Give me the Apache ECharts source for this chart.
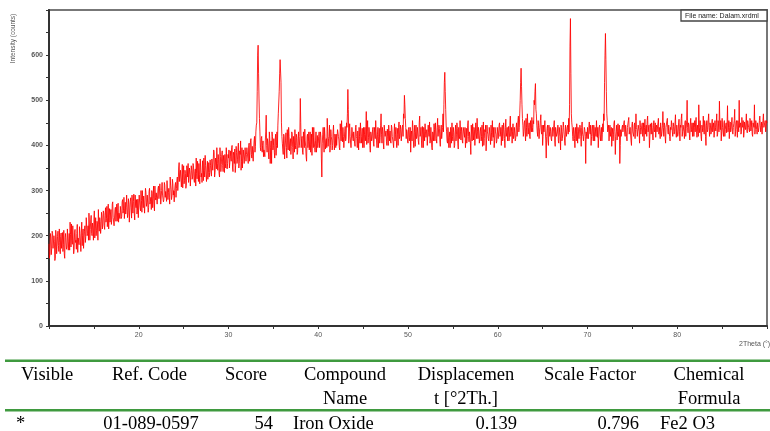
<!DOCTYPE html>
<html>
<head>
<meta charset="utf-8">
<script src="https://cdn.jsdelivr.net/npm/echarts@6/dist/echarts.min.js"></script>
<style>
html,body{margin:0;padding:0;background:#fff;}
#c{width:770px;height:431px;}
</style>
</head>
<body>
<div id="c"></div>
<script>
// 2Theta grid: start and step (degrees)
const twoThetaStart = 10;
const twoThetaStep = 0.1;
// Intensity (counts) at 10.0, 10.1, ... 90.0 deg
const intensity = [
182,160,195,171,205,168,188,150,199,176,210,165,185,198,172,207,180,160,196,184,
175,212,188,168,203,226,181,195,170,214,190,205,163,199,220,186,208,178,215,195,
222,198,236,205,190,228,214,245,200,219,232,195,240,212,226,258,210,231,218,244,
226,250,214,262,238,220,270,245,230,258,236,275,242,225,263,248,232,272,250,238,
265,243,280,256,238,274,262,290,248,270,255,284,239,268,276,250,290,262,248,281,
268,292,255,278,300,262,284,250,296,273,288,262,305,276,258,294,282,270,310,279,
295,272,310,286,300,268,318,292,280,312,298,276,320,296,285,330,302,288,315,300,
300,318,305,330,318,362,318,342,330,306,355,322,338,312,348,360,320,336,312,345,
330,355,318,348,372,326,345,360,315,352,338,366,322,344,378,335,350,325,362,340,
356,332,372,348,385,340,362,395,345,368,330,375,358,388,342,366,380,350,396,360,
372,350,388,365,400,342,378,392,356,384,368,405,360,380,345,395,372,388,362,398,
380,395,360,405,385,415,372,400,390,420,398,445,520,622,505,430,388,420,400,375,
392,410,467,385,405,370,415,395,360,420,400,385,412,378,430,445,470,560,593,450,
405,380,420,395,428,372,410,440,388,415,398,425,370,408,435,392,418,385,430,400,
504,395,420,380,412,436,398,365,425,408,390,430,402,378,418,440,395,410,385,422,
405,430,395,418,330,425,410,440,392,415,460,398,420,385,435,412,400,445,390,420,
425,400,438,412,390,430,455,408,420,395,442,415,440,524,405,448,418,392,436,410,
428,398,445,415,432,390,420,450,405,438,412,395,440,425,402,455,418,430,385,425,
415,440,398,428,455,410,425,395,438,418,470,405,430,392,445,420,408,436,400,428,
432,405,440,418,395,448,425,410,438,400,452,420,435,408,445,470,511,460,415,430,
405,440,418,385,432,455,410,428,398,445,420,438,402,465,425,410,442,395,430,448,
418,435,400,428,452,412,440,390,425,448,410,432,405,460,420,438,398,445,415,470,
490,562,480,430,405,440,418,395,432,450,410,428,400,445,425,438,392,420,455,412,
430,405,442,418,395,438,420,455,408,432,380,425,448,412,435,400,428,460,415,432,
405,440,420,398,452,415,430,388,445,425,410,438,402,428,455,418,395,440,425,410,
438,412,450,425,400,445,420,435,395,458,428,410,442,418,465,430,405,448,422,440,
415,450,428,465,440,500,571,490,445,430,455,410,440,470,425,450,415,438,462,430,
448,490,537,470,430,455,415,440,468,425,400,445,430,458,372,438,410,445,420,430,
410,440,420,455,398,432,418,445,405,428,390,440,415,452,425,400,438,418,445,460,
490,681,470,440,410,432,395,425,448,405,430,415,440,398,452,420,408,435,360,428,
440,415,452,425,400,438,420,445,410,432,455,418,395,440,425,430,410,448,470,540,
648,520,455,430,410,445,420,398,438,425,455,380,430,412,448,420,360,435,418,445,
430,455,420,445,410,438,462,425,440,400,452,428,445,415,470,435,420,448,405,440,
425,450,432,410,458,438,420,465,430,395,448,425,440,412,455,435,418,445,428,460,
440,415,452,430,475,420,445,405,438,460,425,448,410,435,455,420,442,430,468,418,
445,425,458,410,440,470,430,448,415,455,438,500,428,445,412,460,435,420,450,440,
430,462,418,445,490,428,452,410,438,465,425,448,400,455,435,470,420,445,430,458,
440,418,455,432,470,425,448,498,435,410,460,438,450,420,445,428,488,440,415,452,
435,462,425,448,480,430,455,418,445,500,438,425,462,440,418,452,435,470,428,448,
440,460,432,455,420,448,490,435,458,425,450,440,465,430,452,445,470,438,455,442,
450
];
// Intensity (counts) at the half steps 10.05, 10.15, ... 89.95 deg
const intensityMid = [
150,205,158,210,172,200,145,212,160,198,178,215,160,206,190,165,212,150,205,170,
215,168,205,230,175,190,222,160,208,185,170,225,195,180,205,165,230,200,172,210,
185,240,200,222,250,190,235,205,228,190,255,215,200,232,190,225,240,205,252,215,
255,222,245,230,265,240,215,260,248,225,270,240,222,258,232,270,255,230,248,265,
238,275,250,285,260,248,290,240,282,230,275,262,290,250,292,235,268,280,255,240,
290,262,300,252,275,288,250,305,265,290,252,298,270,285,300,262,310,255,285,295,
270,305,282,315,270,300,290,275,318,285,300,322,280,305,270,312,280,325,290,275,
312,285,322,300,350,320,345,308,358,335,315,345,305,355,330,318,350,310,355,325,
360,325,342,310,338,365,320,335,370,330,318,345,372,330,355,320,365,340,330,368,
340,370,345,390,330,372,348,360,380,338,395,342,380,355,378,340,360,395,348,380,
390,362,375,395,350,385,360,340,398,360,392,350,388,410,365,350,390,360,395,365,
395,372,400,365,410,380,398,365,410,385,430,450,600,560,460,395,415,385,410,390,
375,430,400,415,385,430,360,410,430,390,415,372,425,400,395,470,520,590,540,420,
390,425,370,410,395,435,390,420,405,380,430,395,420,385,400,425,380,415,395,420,
450,415,385,430,395,410,375,420,395,430,410,385,425,440,395,410,385,430,405,395,
420,395,430,370,405,440,385,420,410,395,430,415,445,400,420,390,430,410,425,395,
400,435,420,395,448,410,425,440,395,430,410,450,470,480,430,420,395,440,415,430,
405,440,420,395,415,440,405,430,420,395,440,425,410,475,430,405,440,400,430,410,
435,405,440,415,430,395,440,420,405,445,425,440,405,445,420,432,400,420,445,410,
410,445,420,405,430,410,440,395,425,440,415,445,410,440,420,460,490,440,435,410,
435,410,440,425,410,440,395,445,430,415,440,410,450,420,440,395,425,440,410,430,
430,400,445,420,405,440,395,430,410,435,450,415,440,420,445,410,430,415,440,430,
540,520,445,410,440,395,430,440,405,420,440,395,430,410,450,405,440,415,430,440,
410,440,425,440,415,405,445,420,430,405,445,410,430,440,400,450,415,430,440,405,
430,410,445,420,400,435,445,410,430,415,440,420,445,410,425,440,410,430,405,440,
415,445,420,440,430,410,450,415,440,420,440,430,410,445,420,440,430,415,440,410,
440,420,455,430,470,540,530,460,420,450,430,460,420,445,440,420,455,430,440,455,
500,520,480,445,420,445,430,455,430,445,420,430,455,410,420,445,400,430,440,415,
435,420,445,410,440,420,430,410,440,420,445,410,430,440,410,445,420,440,425,430,
620,560,450,420,440,415,440,410,430,440,415,445,420,440,425,410,440,420,430,415,
420,440,430,445,420,445,410,430,440,420,430,440,420,445,410,440,425,430,455,600,
590,470,430,445,430,420,440,425,410,450,430,420,445,430,420,445,400,420,440,430,
450,425,445,420,440,455,425,440,410,445,430,420,450,435,440,420,445,430,455,425,
445,420,450,440,425,445,455,430,445,420,440,450,425,445,430,450,440,430,450,425,
430,450,420,445,440,450,420,440,455,430,445,420,440,455,430,450,425,450,430,445,
420,450,430,445,460,420,445,430,450,420,455,440,450,425,445,430,450,445,420,455,
450,430,445,420,440,455,420,445,430,440,455,420,445,430,455,440,450,425,450,430,
450,430,440,450,420,455,430,445,455,430,440,420,455,435,450,445,430,455,440,430,
450,430,440,455,420,450,435,455,430,440,450,430,445,455,430,440,450,435,455,440,
430,455,440,425,450,440,425,455,435,450,430,455,445,440,425,455,440,450,430,455
];
// Axis tick labels
const xTickLabels = [20,30,40,50,60,70,80];
const yTickLabels = [0,100,200,300,400,500,600];

// Table content
const tableHeader1 = ['Visible','Ref. Code','Score','Compound','Displacemen','Scale Factor','Chemical'];
const tableHeader2 = ['','','','Name','t [°2Th.]','','Formula'];
const tableRow = ['*','01-089-0597','54','Iron Oxide','0.139','0.796','Fe2 O3'];

const seriesData = [];
intensity.forEach((v,i)=>{
  const x = twoThetaStart + i*twoThetaStep;
  seriesData.push([+x.toFixed(3), v]);
  if (i < intensityMid.length) seriesData.push([+(x + twoThetaStep/2).toFixed(3), intensityMid[i]]);
});

const chart = echarts.init(document.getElementById('c'), null, {renderer:'canvas'});

const serif = '"Liberation Serif","Times New Roman",serif';
const sans = '"Liberation Sans",Arial,sans-serif';
const green = '#3f9a3f';

function txt(x,y,text,align){
  return {type:'text', x:x, y:y, silent:true,
    style:{text:text, fill:'#000', font:'18.5px '+serif, textAlign:align, textVerticalAlign:'middle'}};
}
const colHead = [[21,'left'],[149.5,'center'],[246,'center'],[345,'center'],[466,'center'],[590,'center'],[709,'center']];
const colData = [[16,'left'],[151,'center'],[273,'right'],[293,'left'],[517,'right'],[639,'right'],[660,'left']];
const graphics = [];
tableHeader1.forEach((t,i)=>graphics.push(txt(colHead[i][0],375.5,t,colHead[i][1])));
tableHeader2.forEach((t,i)=>{ if(t) graphics.push(txt(colHead[i][0],399,t,colHead[i][1])); });
tableRow.forEach((t,i)=>graphics.push(txt(colData[i][0],424,t,colData[i][1])));
graphics.push({type:'line', silent:true, shape:{x1:5,y1:360.8,x2:770,y2:360.8}, style:{stroke:green,lineWidth:2.5}});
graphics.push({type:'line', silent:true, shape:{x1:5,y1:410.3,x2:770,y2:410.3}, style:{stroke:green,lineWidth:2.5}});
// axis title (y)
graphics.push({type:'text', x:13, y:38.5, rotation:Math.PI/2, silent:true,
  style:{text:'Intensity (counts)', fill:'#555', font:'6.5px '+sans, textAlign:'center', textVerticalAlign:'middle'}});
// axis title (x)
graphics.push({type:'text', x:739, y:344, silent:true,
  style:{text:'2Theta (°)', fill:'#555', font:'7px '+sans, textAlign:'left', textVerticalAlign:'middle'}});
// file name box
graphics.push({type:'rect', silent:true, z:100, shape:{x:681,y:10,width:86,height:11},
  style:{fill:'#fff', stroke:'#444', lineWidth:1.3}});
graphics.push({type:'text', x:685, y:15.8, silent:true, z:101,
  style:{text:'File name: Dalam.xrdml', fill:'#222', font:'7px '+sans, textAlign:'left', textVerticalAlign:'middle'}});

chart.setOption({
  animation:false,
  backgroundColor:'#fff',
  grid:{left:49, right:2, top:10, bottom:105, show:true, borderColor:'#777', borderWidth:2, backgroundColor:'#fff'},
  xAxis:{
    type:'value', min:10, max:90, interval:5,
    axisLine:{show:true, onZero:false, lineStyle:{color:'#333', width:2}},
    axisTick:{show:true, length:3, lineStyle:{color:'#333', width:1}},
    axisLabel:{color:'#555', fontSize:7, fontFamily:sans, margin:6,
      formatter:v=> xTickLabels.indexOf(v)>=0 ? String(v) : ''},
    splitLine:{show:false}
  },
  yAxis:{
    type:'value', min:0, max:700, interval:50,
    axisLine:{show:true, lineStyle:{color:'#333', width:2}},
    axisTick:{show:true, length:3, lineStyle:{color:'#333', width:1}},
    axisLabel:{color:'#555', fontSize:7, fontFamily:sans, fontWeight:'bold', margin:6,
      formatter:v=> yTickLabels.indexOf(v)>=0 ? String(v) : ''},
    splitLine:{show:false}
  },
  series:[{
    type:'line', data:seriesData, showSymbol:false, symbol:'none', sampling:null,
    lineStyle:{color:'rgba(255,0,0,0.85)', width:1},
    z:2
  }],
  graphic:graphics
});
</script>
</body>
</html>
